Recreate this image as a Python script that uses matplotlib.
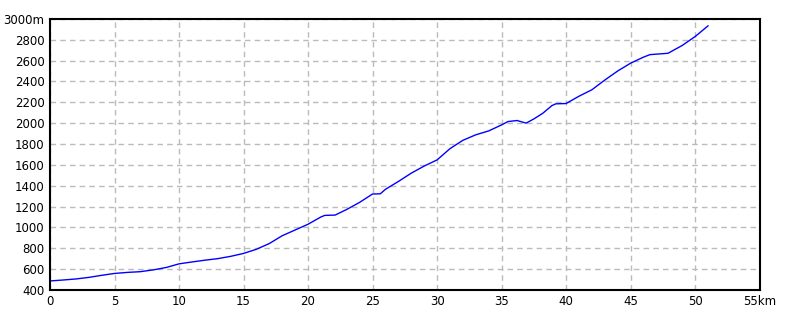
import matplotlib.pyplot as plt
import numpy as np

dist_km = [0, 1, 2, 3, 4, 5, 6, 7, 8, 9, 10, 11, 12, 13, 14, 15, 16, 17, 18, 19,
           20, 21, 21.3, 22.1, 23, 24, 25, 25.6, 26, 27, 28, 29, 30, 31, 32, 33, 34,
           35, 35.5, 36.2, 36.9, 37.5, 38.2, 38.9, 39.2, 40, 41, 42, 43, 44, 45, 46,
           46.5, 47.9, 49, 50, 51]
elev_m = [486, 495, 505, 520, 540, 558, 568, 575, 592, 615, 650, 668, 685, 700, 722,
          750, 790, 845, 920, 975, 1030, 1100, 1115, 1118, 1172, 1240, 1320, 1322,
          1365, 1440, 1520, 1588, 1647, 1755, 1835, 1888, 1925, 1983, 2015, 2025,
          2000, 2040, 2095, 2168, 2185, 2188, 2258, 2320, 2413, 2500, 2575, 2633,
          2657, 2670, 2745, 2830, 2933]

xticks = np.arange(0, 56, 5)
xlabels = [str(v) for v in xticks[:-1]] + ["55km"]
yticks = np.arange(400, 3001, 200)
ylabels = [str(v) for v in yticks[:-1]] + ["3000m"]

fig = plt.figure(figsize=(8, 3.2), dpi=100)
ax = fig.add_axes([0.0625, 0.094, 0.887, 0.847])
ax.plot(dist_km, elev_m, color="#0000ff", linewidth=1)
ax.set_xlim(0, 55)
ax.set_ylim(400, 3000)
ax.set_xticks(xticks)
ax.set_xticklabels(xlabels)
ax.set_yticks(yticks)
ax.set_yticklabels(ylabels)
ax.tick_params(length=0, labelsize=8.5, pad=4)
ax.grid(True, color="#bbbbbb", linestyle=(0, (4, 3)), linewidth=1)
for s in ax.spines.values():
    s.set_linewidth(1.5)
    s.set_color("black")

fig.savefig("out.png", dpi=100)
